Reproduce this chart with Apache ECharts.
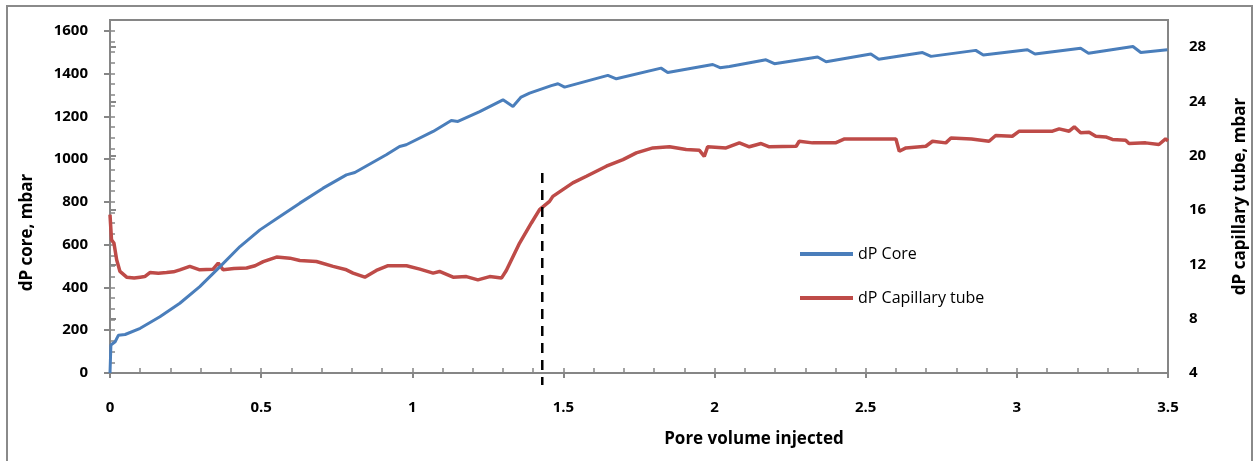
<!DOCTYPE html>
<html>
<head>
<meta charset="utf-8">
<script src="https://cdn.jsdelivr.net/npm/echarts@6/dist/echarts.min.js"></script>
<style>
html,body{margin:0;padding:0;background:#fff;}
#c{width:1257px;height:461px;}
</style>
</head>
<body>
<div id="c"></div>
<script>
// Pore volume injected (x) and dP core, mbar (left axis)
const coreX = [0, 0.003, 0.017, 0.028, 0.05, 0.1, 0.165, 0.231, 0.297, 0.364, 0.43, 0.496, 0.562, 0.628, 0.705, 0.782, 0.81, 0.914, 0.958, 0.98, 1.069, 1.129, 1.151, 1.223, 1.30, 1.333, 1.36, 1.388, 1.46, 1.482, 1.504, 1.647, 1.675, 1.823, 1.845, 1.994, 2.018, 2.049, 2.17, 2.198, 2.341, 2.369, 2.517, 2.543, 2.688, 2.716, 2.864, 2.889, 3.035, 3.06, 3.211, 3.237, 3.384, 3.41, 3.498];
const coreY = [0, 131, 146, 177, 180, 209, 263, 326, 404, 497, 591, 669, 731, 794, 864, 926, 937, 1020, 1059, 1067, 1129, 1180, 1176, 1222, 1277, 1246, 1290, 1308, 1343, 1352, 1336, 1391, 1375, 1425, 1405, 1442, 1427, 1433, 1464, 1446, 1477, 1455, 1491, 1467, 1498, 1480, 1508, 1486, 1511, 1491, 1518, 1495, 1526, 1498, 1511];

// dP capillary tube, mbar (right axis)
const capX = [0, 0.005, 0.013, 0.022, 0.033, 0.055, 0.08, 0.1, 0.115, 0.132, 0.16, 0.187, 0.21, 0.231, 0.264, 0.297, 0.341, 0.358, 0.374, 0.41, 0.452, 0.48, 0.507, 0.551, 0.595, 0.628, 0.683, 0.738, 0.782, 0.804, 0.843, 0.881, 0.92, 0.981, 1.025, 1.069, 1.09, 1.135, 1.179, 1.217, 1.256, 1.295, 1.311, 1.355, 1.394, 1.421, 1.454, 1.465, 1.531, 1.576, 1.642, 1.697, 1.741, 1.796, 1.851, 1.906, 1.95, 1.966, 1.977, 2.038, 2.082, 2.115, 2.154, 2.181, 2.27, 2.28, 2.324, 2.40, 2.43, 2.49, 2.60, 2.611, 2.633, 2.699, 2.721, 2.765, 2.782, 2.85, 2.908, 2.93, 2.985, 3.008, 3.06, 3.118, 3.14, 3.173, 3.19, 3.211, 3.239, 3.261, 3.294, 3.316, 3.36, 3.371, 3.426, 3.47, 3.492, 3.5];
const capY = [15.66, 13.8, 13.57, 12.34, 11.48, 11.06, 11.0, 11.06, 11.1, 11.4, 11.35, 11.4, 11.45, 11.6, 11.85, 11.6, 11.65, 12.1, 11.6, 11.7, 11.73, 11.9, 12.2, 12.54, 12.46, 12.29, 12.21, 11.85, 11.6, 11.36, 11.06, 11.55, 11.9, 11.9, 11.65, 11.36, 11.48, 11.06, 11.1, 10.86, 11.1, 10.99, 11.55, 13.57, 15.05, 16.03, 16.64, 17.01, 18.0, 18.49, 19.23, 19.72, 20.21, 20.58, 20.66, 20.46, 20.4, 19.96, 20.66, 20.58, 20.95, 20.66, 20.9, 20.66, 20.7, 21.07, 20.95, 20.95, 21.24, 21.24, 21.24, 20.33, 20.58, 20.7, 21.07, 20.95, 21.31, 21.24, 21.07, 21.49, 21.44, 21.81, 21.81, 21.81, 21.98, 21.81, 22.13, 21.69, 21.74, 21.44, 21.39, 21.2, 21.14, 20.9, 20.95, 20.83, 21.24, 21.1];

// vertical dashed marker (left-axis units)
const markX = [1.43, 1.43];
const markY = [935, -56];

const seriesNames = ['dP Core', 'dP Capillary tube'];
const xTicks = { min: 0, max: 3.5, interval: 0.5, minor: 0.1 };
const leftTicks = { min: 0, max: 1650, interval: 200, minor: 50 };
const rightTicks = { min: 4, max: 30, interval: 4 };

const AX = '#868686';
const FONT = '"Open Sans", "Liberation Sans", sans-serif';
const lbl = { color: '#000', fontFamily: FONT, fontWeight: 'bold', fontSize: 15, formatter: v => String(v) };

const chart = echarts.init(document.getElementById('c'), null, { renderer: 'canvas' });
chart.setOption({
  animation: false,
  backgroundColor: '#fff',
  grid: { left: 110, right: 88, top: 20, bottom: 88, show: true, borderColor: AX, borderWidth: 2, backgroundColor: 'transparent' },
  graphic: [{
    type: 'rect', shape: { x: 7, y: 6, width: 1245, height: 470 },
    style: { fill: 'none', stroke: '#8a8a8a', lineWidth: 2 }, silent: true, z: -1
  }],
  legend: {
    data: seriesNames, orient: 'vertical', left: 800, top: 246, padding: 0,
    itemWidth: 53, itemHeight: 4, itemGap: 28, icon: 'rect',
    textStyle: { color: '#000', fontFamily: FONT, fontSize: 16 }
  },
  xAxis: [{
    type: 'value', min: xTicks.min, max: xTicks.max, interval: xTicks.interval, position: 'bottom',
    name: 'Pore volume injected', nameLocation: 'middle', nameGap: 58,
    nameTextStyle: { color: '#000', fontFamily: FONT, fontWeight: 'bold', fontSize: 17, padding: [0, 0, 0, 230] },
    axisLine: { onZero: false, lineStyle: { color: AX, width: 2 } },
    axisTick: { show: true, inside: false, length: 5, lineStyle: { color: AX, width: 2 } },
    axisLabel: Object.assign({}, lbl, { margin: 27 }),
    splitLine: { show: false }
  }, {
    type: 'value', min: xTicks.min, max: xTicks.max, interval: xTicks.minor, position: 'bottom',
    axisLine: { show: true, onZero: false, lineStyle: { color: AX, width: 2 } },
    axisTick: { show: true, inside: true, length: 5, lineStyle: { color: AX, width: 1.5 } },
    axisLabel: { show: false }, splitLine: { show: false }
  }],
  yAxis: [{
    type: 'value', min: leftTicks.min, max: leftTicks.max, interval: leftTicks.interval, position: 'left',
    name: 'dP core, mbar', nameLocation: 'middle', nameGap: 74, nameRotate: 90,
    nameTextStyle: { color: '#000', fontFamily: FONT, fontWeight: 'bold', fontSize: 17, padding: [0, 72, 0, 0] },
    axisLine: { show: true, lineStyle: { color: AX, width: 2 } },
    axisTick: { show: true, inside: false, length: 6, lineStyle: { color: AX, width: 2 } },
    axisLabel: Object.assign({}, lbl, { margin: 22, showMaxLabel: false }),
    splitLine: { show: false }
  }, {
    type: 'value', min: rightTicks.min, max: rightTicks.max, interval: rightTicks.interval, position: 'right',
    name: 'dP capillary tube, mbar', nameLocation: 'middle', nameGap: 64, nameRotate: 90,
    nameTextStyle: { color: '#000', fontFamily: FONT, fontWeight: 'bold', fontSize: 17 },
    axisLine: { show: true, lineStyle: { color: AX, width: 2 } },
    axisTick: { show: true, inside: false, length: 6, lineStyle: { color: AX, width: 2 } },
    axisLabel: Object.assign({}, lbl, { margin: 21, showMaxLabel: false }),
    splitLine: { show: false }
  }, {
    type: 'value', min: leftTicks.min, max: leftTicks.max, interval: leftTicks.minor, position: 'left',
    axisLine: { show: true, lineStyle: { color: AX, width: 2 } },
    axisTick: { show: true, inside: true, length: 5, lineStyle: { color: AX, width: 1.5 } },
    axisLabel: { show: false }, splitLine: { show: false }
  }],
  series: [{
    name: seriesNames[0], type: 'line', xAxisIndex: 0, yAxisIndex: 0,
    data: coreX.map((x, i) => [x, coreY[i]]),
    showSymbol: false, symbol: 'none', smooth: false,
    lineStyle: { color: '#4a7ebb', width: 3 }, itemStyle: { color: '#4a7ebb' }, z: 3
  }, {
    name: seriesNames[1], type: 'line', xAxisIndex: 0, yAxisIndex: 1,
    data: capX.map((x, i) => [x, capY[i]]),
    showSymbol: false, symbol: 'none',
    lineStyle: { color: '#be4b48', width: 3.5 }, itemStyle: { color: '#be4b48' }, z: 2
  }, {
    name: 'marker', type: 'line', xAxisIndex: 0, yAxisIndex: 0, clip: false,
    data: markX.map((x, i) => [x, markY[i]]),
    showSymbol: false, symbol: 'none', silent: true,
    lineStyle: { color: '#000', width: 2.5, type: [10, 7] }, z: 4
  }]
});
</script>
</body>
</html>
